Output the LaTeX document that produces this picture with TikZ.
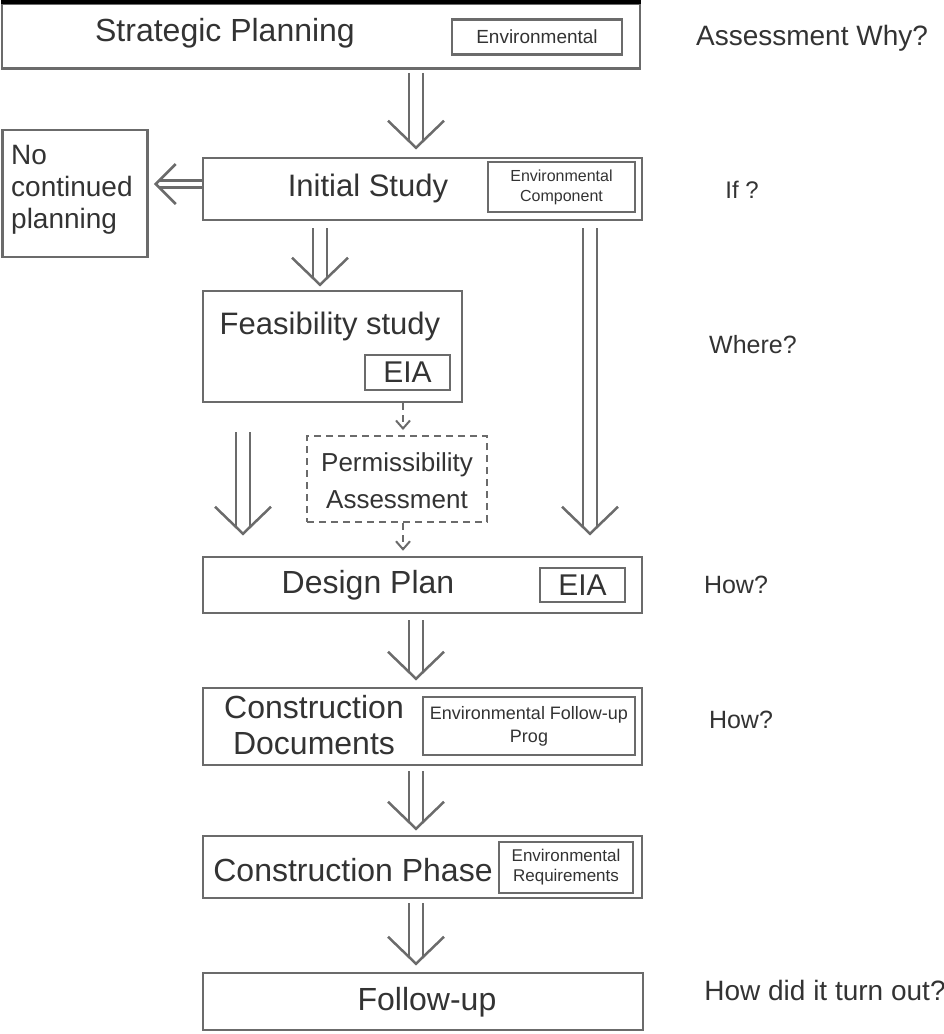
\documentclass[tikz,border=0pt]{standalone}
\usepackage{fontspec}
\setmainfont{Liberation Sans}
\usetikzlibrary{arrows.meta,calc,decorations.markings}

\definecolor{linec}{gray}{0.42}
\definecolor{txtc}{gray}{0.2}

\begin{document}
\begin{tikzpicture}[x=1pt, y=-1pt,
    frame/.style={draw=linec, line width=2.5pt, inner sep=0pt},
    inbox/.style={draw=linec, line width=2.2pt, inner sep=0pt},
    dashbox/.style={draw=linec, line width=2pt, dash pattern=on 7pt off 5pt, inner sep=0pt},
    bigtxt/.style={text=txtc, font=\fontsize{32}{36}\selectfont, align=center, inner sep=0pt},
    smalltxt/.style={text=txtc, font=\fontsize{17}{20}\selectfont, align=center, inner sep=0pt},
    sidetxt/.style={text=txtc, font=\fontsize{26}{30}\selectfont, inner sep=0pt},
    arrline/.style={draw=linec, line width=2.5pt},
    dblarr/.style n args={3}{postaction={decorate}, decoration={markings, mark=at position 1 with {
        \draw[arrline] (-\pgfdecoratedpathlength,#1) -- (-#1,#1);
        \draw[arrline] (-\pgfdecoratedpathlength,-#1) -- (-#1,-#1);
        \draw[arrline] (-#2,#3) -- (0,0) -- (-#2,-#3);}}},
    dasharr/.style={draw=linec, line width=2pt, dash pattern=on 7pt off 5pt,
        -{Straight Barb[length=8pt, width=14pt]}, shorten >=5pt}
]

    \useasboundingbox (0,0) rectangle (944,1034);

    % Strategic planning
    \node[frame, minimum width=638pt, minimum height=65pt] (sp) at (321,36) {};
    \draw[line width=4pt, black] (sp.north west) -- (sp.north east);
    \node[bigtxt] (sptxt) at (225,33) {Strategic Planning};
    \node[inbox, smalltxt, font=\fontsize{19}{22}\selectfont, minimum width=170pt, minimum height=35pt] (spenv) at (537,37) {Environmental};

    % Initial study
    \node[frame, minimum width=439pt, minimum height=62pt] (is) at (422.5,189) {};
    \node[bigtxt, font=\fontsize{31}{36}\selectfont] (istxt) at (368,188) {Initial Study};
    \node[inbox, smalltxt, font=\fontsize{16}{20}\selectfont, minimum width=147pt, minimum height=50pt] (isenv) at (561.5,187) {Environmental\\Component};

    % no continued planning
    \node[frame, minimum width=145pt, minimum height=127pt] (nc) at (75,193.5) {};
    \node[bigtxt, font=\fontsize{28}{32}\selectfont, align=left, anchor=west] (nctxt) at (11,190) {No\\continued\\planning};

    % Feasibility study
    \node[frame, minimum width=259pt, minimum height=111pt] (fs) at (332.5,346.5) {};
    \node[bigtxt, font=\fontsize{31}{36}\selectfont] (fstxt) at (330,326) {Feasibility study};
    \node[inbox, bigtxt, font=\fontsize{30}{34}\selectfont, minimum width=85pt, minimum height=35pt] (fseia) at (407.5,372.5) {EIA};

    % Permissibility
    \node[dashbox, minimum width=180pt, minimum height=86pt] (pa) at (397,479) {};
    \node[bigtxt, font=\fontsize{26}{37}\selectfont] (patxt) at (397,481) {Permissibility\\Assessment};

    % Design plan
    \node[frame, minimum width=439pt, minimum height=56pt] (dp) at (422.5,585) {};
    \node[bigtxt] (dptxt) at (368,585) {Design Plan};
    \node[inbox, bigtxt, font=\fontsize{30}{34}\selectfont, minimum width=85pt, minimum height=34pt] (dpeia) at (582.5,585) {EIA};

    % Construction documents
    \node[frame, minimum width=439pt, minimum height=77pt] (cd) at (422.5,726.5) {};
    \node[bigtxt] (cdtxt) at (314,725) {Construction\\Documents};
    \node[inbox, smalltxt, font=\fontsize{18}{23}\selectfont, minimum width=212pt, minimum height=58pt] (cdenv) at (529,726) {Environmental Follow-up\\Prog};

    % Construction phase
    \node[frame, minimum width=439pt, minimum height=62pt] (cp) at (422.5,867) {};
    \node[bigtxt] (cptxt) at (353,870) {Construction Phase};
    \node[inbox, smalltxt, minimum width=134pt, minimum height=51pt] (cpenv) at (566,867.5) {Environmental\\Requirements};

    % Follow-up
    \node[frame, minimum width=440pt, minimum height=57pt] (fu) at (423,1001.5) {};
    \node[bigtxt] (futxt) at (427,1002) {Follow-up};

    % questions
    \node[sidetxt, font=\fontsize{28}{30}\selectfont] (q1) at (812,38) {Assessment Why?};
    \node[sidetxt, font=\fontsize{24}{30}\selectfont] (q2) at (742,190) {If ?};
    \node[sidetxt, font=\fontsize{25}{30}\selectfont] (q3) at (753,345) {Where?};
    \node[sidetxt, font=\fontsize{25}{30}\selectfont] (q4) at (736,585) {How?};
    \node[sidetxt, font=\fontsize{25}{30}\selectfont] (q5) at (741,720) {How?};
    \node[sidetxt, font=\fontsize{28}{30}\selectfont] (q6) at (825,990) {How did it turn out?};

    % arrows
    \coordinate (midx) at (416,0);
    \coordinate (lx) at (320,0);
    \coordinate (rx) at (590,0);
    \coordinate (fx) at (243,0);
    \coordinate (dx) at (403,0);
    \coordinate (sy) at (0,184);
    \coordinate (fstart) at (243,432);

    \path[dblarr={7pt}{27pt}{28pt}] ($(sp.south -| midx)+(0,3)$) -- ($(is.north -| midx)+(0,-9)$);
    \path[dblarr={3.5pt}{20pt}{20pt}] (is.west |- sy) -- ($(nc.east |- sy)+(7,0)$);
    \path[dblarr={7pt}{27pt}{28pt}] ($(is.south -| lx)+(0,7)$) -- ($(fs.north -| lx)+(0,-5)$);
    \path[dblarr={7pt}{27pt}{28pt}] ($(is.south -| rx)+(0,7)$) -- ($(dp.north -| rx)+(0,-22)$);
    \path[dblarr={7pt}{27pt}{28pt}] (fstart) -- ($(dp.north -| fx)+(0,-22)$);
    \path[dblarr={7pt}{27pt}{28pt}] ($(dp.south -| midx)+(0,6)$) -- ($(cd.north -| midx)+(0,-8)$);
    \path[dblarr={7pt}{27pt}{28pt}] ($(cd.south -| midx)+(0,5)$) -- ($(cp.north -| midx)+(0,-6)$);
    \path[dblarr={7pt}{27pt}{28pt}] ($(cp.south -| midx)+(0,4)$) -- ($(fu.north -| midx)+(0,-8)$);

    % dashed arrows
    \draw[dasharr] (fs.south -| dx) -- (pa.north -| dx);
    \draw[dasharr] (pa.south -| dx) -- (dp.north -| dx);

\end{tikzpicture}
\end{document}
